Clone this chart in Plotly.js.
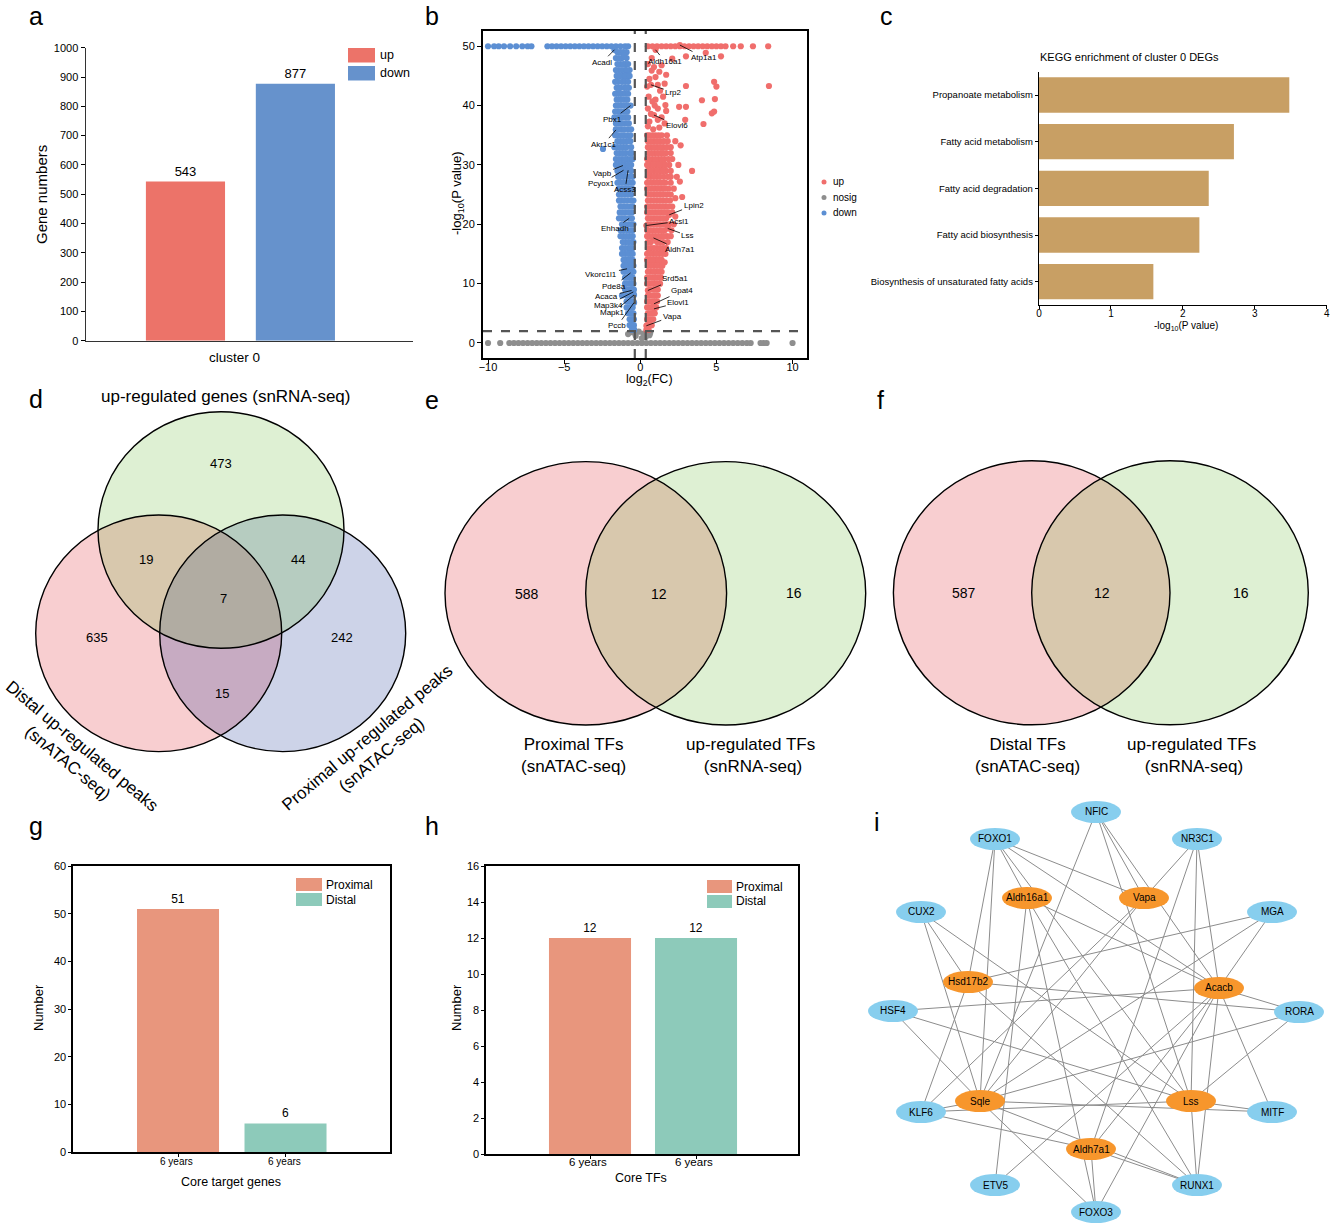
<!DOCTYPE html>
<html><head><meta charset="utf-8">
<script src="https://cdn.plot.ly/plotly-3.0.1.min.js"></script>
<style>html,body{margin:0;padding:0;background:#fff}#chart{width:1333px;height:1223px}</style>
</head><body><div id="chart"></div>
<script>
const W=1333,H=1223;
const FONT='Liberation Sans, Arial, Helvetica, sans-serif';

// ---------- panel a ----------
const aGroups=['up','down'];
const aCounts=[543,877];
const aColors=['#EC7369','#6692CC'];
const aCategory='cluster 0';

// ---------- panel b (volcano) ----------
const upPts=[
[0.5,50],[0.8,50],[1.1,50],[1.4,50],[1.7,50],[2.0,50],[2.3,50],[2.6,50],[2.9,50],[3.2,50],[3.5,50],[3.8,50],[4.1,50],[4.4,50],[4.7,50],[5.0,50],[5.3,50],[5.6,50],[6.1,50],[6.6,50],[7.4,50],[8.4,50],
[0.75,48],[2.1,47.9],[3.0,48.3],[4.3,48.9],[5.3,48.3],[1.0,49.4],[2.6,50.2],
[0.75,45.9],[1.25,45.7],[1.7,45.2],[0.45,43.2],[0.7,43.5],[1.15,43.5],[1.6,43.7],[3.0,43.3],[4.85,44],[5.0,43.2],[8.45,43.3],
[0.8,40.7],[1.5,41.5],[1.65,40.1],[2.55,39.8],[3.0,39.8],[4.05,40.9],[4.9,41.1],[1.15,39.5],[1.7,39.1],[4.7,38.7],[4.85,39],
[0.6,37.3],[1.15,37.6],[2.95,37.6],[4.15,36.9],[1.25,36.3],[0.7,38.6],[0.9,38.4],
[0.5,47],[0.9,46.5],[1.4,46.8],[0.6,44.5],[1.0,44.8],[1.3,42.5],[0.55,41.5],[1.0,41],[0.5,39.5],[0.95,40],[1.4,38],[0.5,36.5],[0.85,36],[1.6,37],
[0.6,35],[1.0,35],[1.4,35],[1.75,35],[0.45,35],[0.8,35],[1.2,35],
[0.5,34],[0.9,34],[1.3,34],[1.8,34],[2.3,34],[0.7,34],[1.1,34],[1.55,34],
[0.7,33],[1.1,33],[1.5,33],[2.0,33],[2.65,33.3],[0.5,33],[0.9,33],[1.3,33],[1.75,33],
[0.55,32],[0.95,32],[1.35,32],[1.7,32],[0.75,32],[1.15,32],[1.5,32],[2.0,32],
[0.45,31],[0.8,31],[1.2,31],[1.6,31],[2.1,31],[0.6,31],[1.0,31],[1.4,31],[1.85,31],
[0.65,30],[1.05,30],[1.45,30],[1.9,30],[2.5,30],[0.45,30],[0.85,30],[1.25,30],[1.65,30],
[0.5,29],[0.9,29],[1.3,29],[1.7,29],[3.4,29],[0.7,29],[1.1,29],[1.5,29],[2.0,29],
[0.7,28],[1.1,28],[1.55,28],[2.0,28],[2.4,28],[0.5,28],[0.9,28],[1.3,28],[1.8,28],
[0.45,27],[0.85,27],[1.25,27],[1.65,27],[2.6,27.2],[0.65,27],[1.05,27],[1.45,27],[2.0,27],
[0.6,26],[1.0,26],[1.4,26],[1.85,26],[2.2,26],[0.45,26],[0.8,26],[1.2,26],[1.6,26],
[0.5,25],[0.9,25],[1.3,25],[1.75,25],[0.7,25],[1.1,25],[1.5,25],[2.0,25],
[2.3,24.4],[2.75,24.6],[0.7,24],[1.1,24],[1.5,24],[1.95,24],[0.5,24],[0.9,24],[1.3,24],[1.7,24],
[0.45,23],[0.85,23],[1.25,23],[1.65,23],[2.1,23],[0.65,23],[1.05,23],[1.45,23],[1.85,23],
[0.6,22],[1.0,22],[1.4,22],[1.8,22],[1.9,21.6],[0.45,22],[0.8,22],[1.2,22],[1.6,22],[2.1,22],
[0.5,21],[0.9,21],[1.3,21],[1.7,21],[2.3,21.3],[0.7,21],[1.1,21],[1.5,21],
[0.7,20],[1.1,20],[1.5,20],[1.9,20],[0.4,19.8],[0.5,20],[0.9,20],[1.3,20],[1.7,20],[2.2,20],
[0.45,19],[0.85,19],[1.25,19],[1.6,19],[2.05,19],[1.8,19.3],[0.65,19],[1.05,19],[1.4,19],
[0.6,18],[1.0,18],[1.4,18],[1.75,18],[0.45,18],[0.8,18],[1.2,18],[1.55,18],[2.0,18],
[0.5,17],[0.87,17.7],[1.3,17],[1.8,17],[0.7,17],[1.1,17],[1.5,17],
[0.7,16],[1.1,16],[1.5,16],[0.5,16],[0.9,16],[1.3,16],[1.7,16],
[0.45,15],[0.85,15],[1.25,15],[1.65,15],[0.65,15],[1.05,15],[1.45,15],
[0.6,14],[1.0,14],[1.4,14],[1.6,13.6],[0.45,14],[0.8,14],[1.2,14],
[0.5,13],[0.9,13],[1.3,13],[0.7,13],[1.1,13],[1.45,13],
[0.7,12],[1.05,12],[1.4,12],[0.5,12],[0.9,12],[1.25,12],
[0.45,11],[0.85,11],[1.2,11],[0.65,11],[1.0,11],[1.35,11],
[0.6,10],[0.95,10],[1.3,10],[0.45,10],[0.8,10],[1.1,10],
[0.5,8.85],[0.85,9],[1.15,9],[0.65,9],[1.0,9],
[0.65,8],[1.0,8],[0.5,8],[0.85,8],[1.15,8],
[0.45,7],[0.8,7],[1.1,7],[0.6,7],[0.95,7],[0.9,6.6],
[0.6,6],[0.45,6],[0.75,6],[1.05,6],[0.9,5.75],
[0.5,5],[0.8,5],[0.65,5],[0.95,5],[0.45,4],[0.7,4],[0.55,4],[0.85,4],
[0.5,3],[0.65,3],[0.45,3],[0.75,3],[0.4,2.9],[0.5,2.5],[0.4,2.2],[0.55,2.2]
];
const downPts=[
[-10,50],[-9.6,50],[-9.3,50],[-8.95,50],[-8.55,50],[-8.15,50],[-7.75,50],[-7.4,50],[-7.15,50],
[-6.1,50],[-5.8,50],[-5.5,50],[-5.2,50],[-4.9,50],[-4.6,50],[-4.3,50],[-4.0,50],[-3.7,50],[-3.4,50],[-3.1,50],[-2.8,50],[-2.5,50],[-2.2,50],[-1.9,50],[-1.6,50],[-1.3,50],[-1.0,50],[-0.8,50],
[-1.7,49.4],[-1.5,49],[-1.3,49],[-1.1,49],[-0.9,49],
[-1.2,48],[-0.9,48],[-1.05,48.5],[-1.6,48],[-1.4,48],
[-1.3,47],[-0.95,47],[-1.5,47],[-1.1,47],[-0.8,47],
[-1.4,46],[-1.0,46],[-0.7,46],[-1.6,46],[-1.2,46],[-0.9,46],
[-1.15,45],[-0.85,45],[-1.55,45],[-1.35,45],[-1.0,45],[-0.7,45],
[-1.45,44],[-1.2,44],[-1.65,44],[-1.0,44],[-0.8,44],
[-1.3,43],[-1.05,43],[-0.75,43],[-1.55,43],[-1.4,43],[-0.9,43],
[-1.5,42],[-1.2,42],[-1.65,42],[-1.35,42],[-1.0,42],[-0.8,42],
[-1.35,41],[-1.0,41],[-1.55,41],[-1.2,41],[-0.85,41],
[-1.25,40],[-0.64,40],[-1.6,40],[-1.45,40],[-1.05,40],[-0.85,40],
[-1.45,39],[-1.1,39],[-0.85,39],[-1.65,39],[-1.3,39],[-0.95,39],
[-1.5,38],[-1.2,38],[-1.7,38],[-1.35,38],[-1.0,38],[-0.8,38],
[-1.35,37],[-0.95,37],[-1.6,37],[-1.2,37],[-0.75,37],
[-1.6,36],[-1.25,36],[-0.8,36],[-1.6,35.9],[-1.45,36],[-1.05,36],[-0.6,36],
[-1.4,35],[-1.05,35],[-1.65,35],[-1.2,35],[-0.85,35],[-0.65,35],
[-1.3,34],[-0.9,34],[-0.65,34],[-1.5,34],[-1.1,34],[-0.75,34],
[-1.5,33],[-1.1,33],[-1.7,33],[-1.3,33],[-0.9,33],[-0.6,33],[-2.45,32.7],
[-1.35,32],[-0.95,32],[-0.7,32],[-1.55,32],[-1.15,32],[-0.55,32],
[-1.2,31],[-0.85,31],[-1.6,31],[-1.4,31],[-1.0,31],[-0.65,31],[-0.5,31],
[-1.4,30],[-1.0,30],[-0.6,30],[-1.6,30],[-1.2,30],[-0.8,30],
[-1.14,29.9],[-1.1,29.1],[-0.8,29.1],[-1.25,29],[-1.5,29],[-1.0,29],[-0.6,29],
[-1.45,28],[-1.1,28],[-0.7,28],[-1.3,28],[-0.9,28],[-0.5,28],
[-1.3,27],[-0.9,27],[-1.5,27],[-1.1,27],[-0.7,27],[-0.5,27],
[-1.2,26],[-0.75,26],[-0.55,26],[-1.4,26],[-1.0,26],[-0.9,26],
[-1.4,25],[-1.0,25],[-1.2,25],[-0.8,25],[-0.6,25],
[-1.25,24],[-0.85,24],[-0.6,24],[-1.4,24],[-1.05,24],[-0.45,24],
[-1.1,23],[-0.7,23],[-1.3,23],[-0.9,23],[-0.5,23],
[-1.35,22],[-0.95,22],[-0.55,22],[-1.15,22],[-0.75,22],
[-1.2,21],[-0.73,21],[-1.4,21],[-1.0,21],[-0.55,21],
[-1.0,20],[-0.6,20],[-1.2,20],[-0.8,20],[-0.45,20],
[-1.3,19],[-0.85,19],[-0.5,19],[-1.1,19],[-0.65,19],
[-1.1,18],[-0.7,18],[-1.3,18],[-0.9,18],[-0.5,18],
[-0.95,17],[-0.55,17],[-1.15,17],[-0.75,17],[-0.45,17],
[-1.2,16],[-0.8,16],[-0.5,16],[-1.0,16],[-0.65,16],
[-1.0,15],[-0.65,15],[-1.2,15],[-0.8,15],[-0.5,15],
[-0.9,14],[-0.5,14],[-1.1,14],[-0.7,14],
[-1.1,13],[-0.7,13],[-0.45,13],[-0.9,13],[-0.55,13],
[-0.87,12.5],[-0.95,12],[-0.6,12],[-1.1,12],[-0.75,12],[-0.45,12],
[-0.64,11.8],[-0.8,11],[-0.5,11],[-1.0,11],[-0.65,11],
[-1.0,10],[-0.65,10],[-0.45,10],[-0.85,10],[-0.55,10],
[-0.85,9],[-0.55,9],[-1.0,9],[-0.7,9],[-0.42,9],
[-0.57,8.85],[-0.46,8.6],[-0.41,8.1],[-1.2,8],[-0.7,8],[-0.9,8],[-0.55,8],
[-0.9,7],[-0.6,7],[-0.75,7],[-0.45,7],[-0.41,6.8],
[-0.75,6],[-0.5,6],[-0.9,6],[-0.6,6],
[-0.65,5],[-0.45,5],[-0.8,5],[-0.55,5],
[-0.7,4],[-0.5,4],[-0.6,4],[-0.42,4],
[-0.6,3],[-0.42,3],[-0.7,3],[-0.5,3],[-0.45,2.5],[-0.55,2.2],[-0.4,2.2]
];
const nosigX=[-10,-9.2,-8.6,-8.3,-8.0,-7.7,-7.4,-7.1,-6.8,-6.5,-6.2,-5.9,-5.6,-5.3,-5.0,-4.7,-4.4,-4.1,-3.8,-3.5,-3.2,-2.9,-2.6,-2.3,-2.0,-1.7,-1.4,-1.1,-0.8,-0.5,-0.2,0.1,0.4,0.7,1.0,1.3,1.6,1.9,2.2,2.5,2.8,3.1,3.4,3.7,4.0,4.3,4.6,4.9,5.2,5.5,5.8,6.1,6.4,6.7,7.0,7.25,7.9,8.1,8.3,10.0,
-0.8,-0.5,-0.3,-0.1,0.1,0.2,0.35,0.5,0.6,0.65];
const nosigY=[0,0,0,0,0,0,0,0,0,0,0,0,0,0,0,0,0,0,0,0,0,0,0,0,0,0,0,0,0,0,0,0,0,0,0,0,0,0,0,0,0,0,0,0,0,0,0,0,0,0,0,0,0,0,0,0,0,0,0,0,
1.5,1.8,1.2,1.9,0.8,1.6,1.0,1.9,1.3,1.7];
const fcCut=0.36, pCut=2;
// [gene, pointX, pointY, labelX, labelY]
const volcanoLabels=[
['Acadl',-1.7,49.4,-2.5,47.3],['Aldh16a1',1.0,49.4,1.6,47.5],['Atp1a1',2.6,50.2,4.2,48.1],
['Lrp2',0.7,43.5,2.2,42.2],['Elovl6',0.9,38.4,2.4,36.7],['Pbx1',-0.64,40,-1.8,37.7],
['Akr1c1',-1.6,35.9,-2.4,33.5],['Vapb',-1.14,29.9,-2.5,28.5],['Pcyox1',-1.1,29.1,-2.55,26.9],
['Acss3',-0.8,29.1,-1.0,25.8],['Lpin2',1.9,21.6,3.5,23.2],['Acsl1',0.4,19.8,2.55,20.5],
['Lss',1.8,19.3,3.1,18.1],['Ehhadh',-0.73,21,-1.67,19.3],['Aldh7a1',0.87,17.7,2.6,15.7],
['Vkorc1l1',-0.87,12.5,-2.55,11.6],['Srd5a1',0.5,8.85,2.3,10.8],['Pde8a',-0.64,11.8,-1.75,9.6],
['Gpat4',0.9,6.6,2.74,8.8],['Acaca',-0.57,8.85,-2.2,7.8],['Elovl1',0.9,5.75,2.5,6.8],
['Map3k4',-0.46,8.6,-2.1,6.4],['Mapk1',-0.41,8.1,-1.8,5.1],['Vapa',0.4,2.9,2.1,4.5],['Pccb',-0.41,6.8,-1.5,2.9]
];

// ---------- panel c ----------
const keggTerms=['Propanoate metabolism','Fatty acid metabolism','Fatty acid degradation','Fatty acid biosynthesis','Biosynthesis of unsaturated fatty acids'];
const keggLogP=[3.48,2.71,2.36,2.23,1.59];

// ---------- panels d, e, f (Venn counts) ----------
const dCounts={rnaOnly:473,rnaDistal:19,rnaProximal:44,all:7,distalOnly:635,proximalOnly:242,distalProximal:15};
const eCounts=[588,12,16];
const fCounts=[587,12,16];

// ---------- panels g, h ----------
const ghGroups=['Proximal','Distal'];
const ghColors=['#E8967D','#8DCABA'];
const gCounts=[51,6];
const hCounts=[12,12];
const ghTicks=['6 years','6 years'];

// ---------- panel i (network) ----------
const tfNames=['NFIC','FOXO1','NR3C1','CUX2','MGA','HSF4','RORA','KLF6','MITF','ETV5','RUNX1','FOXO3'];
const tfX=[1096,995,1197,921,1272,893,1299,921,1272,995,1197,1096];
const tfY=[812,839,839,912,912,1011,1012,1112,1112,1185,1185,1212];
const tgNames=['Aldh16a1','Vapa','Hsd17b2','Acacb','Sqle','Lss','Aldh7a1'];
const tgX=[1027,1144,968,1219,980,1191,1091];
const tgY=[898,898,982,988,1101,1101,1149];
const edges=[
['FOXO1','Hsd17b2'],['FOXO1','Sqle'],['FOXO1','Aldh16a1'],['FOXO1','Lss'],['FOXO1','Acacb'],['FOXO1','Vapa'],
['NFIC','Sqle'],['NFIC','Lss'],['NFIC','Vapa'],['NFIC','Acacb'],
['NR3C1','Vapa'],['NR3C1','Aldh7a1'],['NR3C1','Lss'],['NR3C1','Acacb'],
['CUX2','Sqle'],['CUX2','Hsd17b2'],['CUX2','Lss'],
['MGA','Hsd17b2'],['MGA','Acacb'],['MGA','Sqle'],
['HSF4','Acacb'],['HSF4','Sqle'],['HSF4','Lss'],
['RORA','Hsd17b2'],['RORA','Acacb'],['RORA','Sqle'],['RORA','Lss'],
['KLF6','Sqle'],['KLF6','Lss'],['KLF6','Aldh7a1'],['KLF6','Hsd17b2'],['KLF6','Vapa'],
['MITF','Lss'],['MITF','Sqle'],['MITF','Acacb'],
['ETV5','Aldh16a1'],['ETV5','Acacb'],
['FOXO3','Sqle'],['FOXO3','Aldh7a1'],['FOXO3','Acacb'],['FOXO3','Aldh16a1'],
['RUNX1','Lss'],['RUNX1','Acacb'],['RUNX1','Hsd17b2'],['RUNX1','Aldh16a1'],['RUNX1','Sqle'],['RUNX1','Aldh7a1'],
['Aldh16a1','Acacb'],['Vapa','Sqle'],['Aldh7a1','Acacb']
];

// ---------- helpers ----------
const PX=x=>x/W, PY=y=>1-y/H;
const domX=(a,b)=>[a/W,b/W];
const domY=(top,bot)=>[1-bot/H,1-top/H];
function ann(text,x,y,o){o=o||{};return Object.assign({text:text,xref:'paper',yref:'paper',x:PX(x),y:PY(y),showarrow:false,xanchor:'center',yanchor:'middle',font:{family:FONT,size:12,color:'#000'}},o);}
function f(size){return {family:FONT,size:size,color:'#000'};}
function ellipse(cx,cy,rx,ry,fill,line){return {type:'circle',xref:'paper',yref:'paper',x0:PX(cx-rx),x1:PX(cx+rx),y0:PY(cy+ry),y1:PY(cy-ry),fillcolor:fill,line:line||{width:0}};}

const traces=[];
const shapes=[];
const annotations=[];

// panel a
traces.push({type:'bar',x:[0,1],y:aCounts,width:0.72,marker:{color:aColors,line:{width:0}},
  text:aCounts.map(String),textposition:'outside',textfont:f(13),cliponaxis:false,xaxis:'x',yaxis:'y',hoverinfo:'skip'});
annotations.push(ann(aCategory,234,357,{font:f(13.5)}));
annotations.push(ann('Gene numbers',42,195,{textangle:-90,font:f(15)}));
aGroups.forEach((g,i)=>{
  const top=48+i*18;
  shapes.push({type:'rect',xref:'paper',yref:'paper',x0:PX(348),x1:PX(375),y0:PY(top+14.5),y1:PY(top),fillcolor:aColors[i],line:{width:0}});
  annotations.push(ann(g,378,top+7,{xanchor:'left',font:f(12.5)}));
});

// panel b
const mk=(c)=>({color:c,size:6.2,line:{width:0}});
traces.push({type:'scatter',mode:'markers',x:nosigX,y:nosigY,marker:mk('#8E8E8E'),xaxis:'x2',yaxis:'y2',hoverinfo:'skip'});
traces.push({type:'scatter',mode:'markers',x:downPts.map(p=>p[0]),y:downPts.map(p=>p[1]),marker:mk('#5C8FD3'),xaxis:'x2',yaxis:'y2',hoverinfo:'skip'});
traces.push({type:'scatter',mode:'markers',x:upPts.map(p=>p[0]),y:upPts.map(p=>p[1]),marker:mk('#F06E6C'),xaxis:'x2',yaxis:'y2',hoverinfo:'skip'});
[-fcCut,fcCut].forEach(v=>shapes.push({type:'line',xref:'x2',yref:'paper',x0:v,x1:v,y0:PY(358),y1:PY(31),line:{color:'#555',width:2.2,dash:'dash'}}));
shapes.push({type:'line',xref:'paper',yref:'y2',x0:PX(483),x1:PX(807),y0:pCut,y1:pCut,line:{color:'#555',width:2.2,dash:'dash'}});
volcanoLabels.forEach(l=>{
  annotations.push({text:l[0],xref:'x2',yref:'y2',x:l[1],y:l[2],axref:'x2',ayref:'y2',ax:l[3],ay:l[4],showarrow:true,arrowhead:0,arrowwidth:0.8,arrowcolor:'#000',standoff:0,startstandoff:0,font:f(8)});
});
annotations.push(ann('-log<sub>10</sub>(P value)',457,193,{textangle:-90,font:f(13)}));
annotations.push(ann('log<sub>2</sub>(FC)',649,380,{font:f(12.5)}));
[['up','#F06E6C'],['nosig','#8E8E8E'],['down','#5C8FD3']].forEach((l,i)=>{
  const yy=182+i*15.5;
  shapes.push({type:'circle',xref:'paper',yref:'paper',x0:PX(821.5),x1:PX(826.5),y0:PY(yy+2.5),y1:PY(yy-2.5),fillcolor:l[1],line:{width:0}});
  annotations.push(ann(l[0],831,yy,{xanchor:'left',font:f(10)}));
});

// panel c
traces.push({type:'bar',orientation:'h',x:keggLogP,y:keggTerms,width:0.757,marker:{color:'#C89F64',line:{width:0}},xaxis:'x3',yaxis:'y3',hoverinfo:'skip'});
annotations.push(ann('KEGG enrichment of cluster 0 DEGs',1038,57,{xanchor:'left',font:f(11)}));
annotations.push(ann('-log<sub>10</sub>(P value)',1186,326,{font:f(10)}));

// panel d
const dP=[158.7,633.3],dB=[282.7,633.3],dG=[221,530],dr=[123,118.3];
const pinkFill='rgb(248,206,208)',blueFill='rgba(5,35,140,0.2)',greenFill='rgba(90,180,35,0.2)';
const outline={color:'#000',width:1.4};
shapes.push(ellipse(dP[0],dP[1],dr[0],dr[1],pinkFill));
shapes.push(ellipse(dB[0],dB[1],dr[0],dr[1],blueFill));
shapes.push(ellipse(dG[0],dG[1],dr[0],dr[1],greenFill));
[dP,dB,dG].forEach(c=>shapes.push(ellipse(c[0],c[1],dr[0],dr[1],'rgba(0,0,0,0)',outline)));
annotations.push(ann('up-regulated genes (snRNA-seq)',225,396,{font:f(17)}));
[[dCounts.rnaOnly,221,463],[dCounts.rnaDistal,146,560],[dCounts.rnaProximal,298,559],[dCounts.all,223,598],
 [dCounts.distalOnly,97,637],[dCounts.proximalOnly,342,637],[dCounts.distalProximal,222,693]].forEach(n=>annotations.push(ann(String(n[0]),n[1],n[2],{font:f(13)})));
annotations.push(ann('Distal up-regulated peaks<br>(snATAC-seq)',75,754,{textangle:40,font:f(17)}));
annotations.push(ann('Proximal up-regulated peaks<br>(snATAC-seq)',374,746,{textangle:-40,font:f(17)}));

// panel e
shapes.push(ellipse(585.8,593.3,140.8,131.7,pinkFill));
shapes.push(ellipse(725.7,593.3,140,131.7,greenFill));
shapes.push(ellipse(585.8,593.3,140.8,131.7,'rgba(0,0,0,0)',outline));
shapes.push(ellipse(725.7,593.3,140,131.7,'rgba(0,0,0,0)',outline));
[[eCounts[0],527,594],[eCounts[1],659,594],[eCounts[2],794,593]].forEach(n=>annotations.push(ann(String(n[0]),n[1],n[2],{font:f(14)})));
annotations.push(ann('Proximal TFs<br>(snATAC-seq)',573,755,{font:f(17)}));
annotations.push(ann('up-regulated TFs<br> (snRNA-seq)',751,755,{font:f(17)}));

// panel f
shapes.push(ellipse(1031.7,592.8,138.3,132,pinkFill));
shapes.push(ellipse(1170,592.8,138.3,132,greenFill));
shapes.push(ellipse(1031.7,592.8,138.3,132,'rgba(0,0,0,0)',outline));
shapes.push(ellipse(1170,592.8,138.3,132,'rgba(0,0,0,0)',outline));
[[fCounts[0],964,593],[fCounts[1],1102,593],[fCounts[2],1241,593]].forEach(n=>annotations.push(ann(String(n[0]),n[1],n[2],{font:f(14)})));
annotations.push(ann('Distal TFs<br>(snATAC-seq)',1027,755,{font:f(17)}));
annotations.push(ann('up-regulated TFs<br> (snRNA-seq)',1191,755,{font:f(17)}));

// panel g & h
traces.push({type:'bar',x:[0,1],y:gCounts,width:0.763,marker:{color:ghColors,line:{width:0}},text:gCounts.map(String),textposition:'outside',textfont:f(12),cliponaxis:false,xaxis:'x4',yaxis:'y4',hoverinfo:'skip'});
traces.push({type:'bar',x:[0,1],y:hCounts,width:0.774,marker:{color:ghColors,line:{width:0}},text:hCounts.map(String),textposition:'outside',textfont:f(12),cliponaxis:false,xaxis:'x5',yaxis:'y5',hoverinfo:'skip'});
annotations.push(ann(ghTicks[0],176,1161,{font:f(10)}));
annotations.push(ann(ghTicks[1],284,1161,{font:f(10)}));
annotations.push(ann(ghTicks[0],588,1162,{font:f(11.5)}));
annotations.push(ann(ghTicks[1],694,1162,{font:f(11.5)}));
annotations.push(ann('Core target genes',231,1182,{font:f(12.5)}));
annotations.push(ann('Core TFs',641,1178,{font:f(12.5)}));
annotations.push(ann('Number',38,1008,{textangle:-90,font:f(13)}));
annotations.push(ann('Number',456,1008,{textangle:-90,font:f(13)}));
ghGroups.forEach((g,i)=>{
  const gt=878+i*15, ht=880+i*15;
  shapes.push({type:'rect',xref:'paper',yref:'paper',x0:PX(296),x1:PX(322),y0:PY(gt+13),y1:PY(gt),fillcolor:ghColors[i],line:{width:0}});
  annotations.push(ann(g,324,gt+6.5,{xanchor:'left',font:f(12)}));
  shapes.push({type:'rect',xref:'paper',yref:'paper',x0:PX(707),x1:PX(732),y0:PY(ht+13),y1:PY(ht),fillcolor:ghColors[i],line:{width:0}});
  annotations.push(ann(g,734,ht+6.5,{xanchor:'left',font:f(12)}));
});

// panel i
const pos={};
tfNames.forEach((n,i)=>pos[n]=[tfX[i],tfY[i]]);
tgNames.forEach((n,i)=>pos[n]=[tgX[i],tgY[i]]);
const ex=[],ey=[];
edges.forEach(e=>{ex.push(pos[e[0]][0],pos[e[1]][0],null);ey.push(pos[e[0]][1],pos[e[1]][1],null);});
traces.push({type:'scatter',mode:'lines',x:ex,y:ey,line:{color:'#8C8C8C',width:1},xaxis:'x6',yaxis:'y6',hoverinfo:'skip',connectgaps:false});
function node(n,col){const p=pos[n];shapes.push({type:'circle',xref:'x6',yref:'y6',x0:p[0]-25,x1:p[0]+25,y0:p[1]-11,y1:p[1]+11,fillcolor:col,line:{width:0}});
  annotations.push({text:n,xref:'x6',yref:'y6',x:p[0],y:p[1],showarrow:false,xanchor:'center',yanchor:'middle',font:f(10)});}
tfNames.forEach(n=>node(n,'#87CEEE'));
tgNames.forEach(n=>node(n,'#F7962C'));

// panel letters
[['a',36,16],['b',432,16],['c',886,16],['d',36,399],['e',432,400],['f',880,400],['g',36,826],['h',432,826],['i',877,822]]
  .forEach(l=>annotations.push(ann(l[0],l[1],l[2],{font:f(25)})));

const baseAx={showgrid:false,zeroline:false,fixedrange:true,linecolor:'#000',tickcolor:'#000',ticks:'outside'};
const layout={
  width:W,height:H,margin:{l:0,r:0,t:0,b:0},paper_bgcolor:'#fff',plot_bgcolor:'rgba(0,0,0,0)',showlegend:false,
  font:{family:FONT,color:'#000'},
  xaxis:Object.assign({},baseAx,{domain:domX(86,413),anchor:'y',range:[-0.905,2.07],showline:true,linewidth:1.5,linecolor:'#333',ticks:'',showticklabels:false}),
  yaxis:Object.assign({},baseAx,{domain:domY(47.7,340.7),anchor:'x',range:[0,1000],dtick:100,ticklen:4,showline:true,linewidth:1.5,linecolor:'#333',tickfont:f(11)}),
  xaxis2:Object.assign({},baseAx,{domain:domX(483,807),anchor:'y2',range:[-10.33,10.95],tickvals:[-10,-5,0,5,10],ticklen:4,showline:true,mirror:true,linewidth:2,tickfont:f(11),ticklabelstandoff:-6}),
  yaxis2:Object.assign({},baseAx,{domain:domY(31,358),anchor:'x2',range:[-2.53,52.57],tickvals:[0,10,20,30,40,50],ticklen:4,showline:true,mirror:true,linewidth:2,tickfont:f(11)}),
  xaxis3:Object.assign({},baseAx,{domain:domX(1039,1326.7),anchor:'y3',range:[0,4],dtick:1,ticklen:3,showline:true,linewidth:1.2,tickfont:f(10),ticklabelstandoff:-4}),
  yaxis3:Object.assign({},baseAx,{domain:domY(71.7,305),anchor:'x3',type:'category',range:[4.5,-0.5],ticklen:3,showline:true,linewidth:1.2,tickfont:f(9.5)}),
  xaxis4:Object.assign({},baseAx,{domain:domX(73,390),anchor:'y4',range:[-0.977,1.972],tickvals:[0,1],showticklabels:false,ticklen:3,showline:true,mirror:true,linewidth:1.6}),
  yaxis4:Object.assign({},baseAx,{domain:domY(866,1152),anchor:'x4',range:[0,60],dtick:10,ticklen:3,showline:true,mirror:true,linewidth:1.6,tickfont:f(11)}),
  xaxis5:Object.assign({},baseAx,{domain:domX(486,798),anchor:'y5',range:[-0.981,1.962],tickvals:[0,1],showticklabels:false,ticklen:3,showline:true,mirror:true,linewidth:1.6}),
  yaxis5:Object.assign({},baseAx,{domain:domY(866,1154),anchor:'x5',range:[0,16],dtick:2,ticklen:3,showline:true,mirror:true,linewidth:1.6,tickfont:f(11)}),
  xaxis6:{domain:domX(860,1333),anchor:'y6',range:[860,1333],visible:false,fixedrange:true},
  yaxis6:{domain:domY(780,1223),anchor:'x6',range:[1223,780],visible:false,fixedrange:true},
  shapes:shapes,annotations:annotations
};
Plotly.newPlot('chart',traces,layout,{staticPlot:true,displayModeBar:false});
</script></body></html>
